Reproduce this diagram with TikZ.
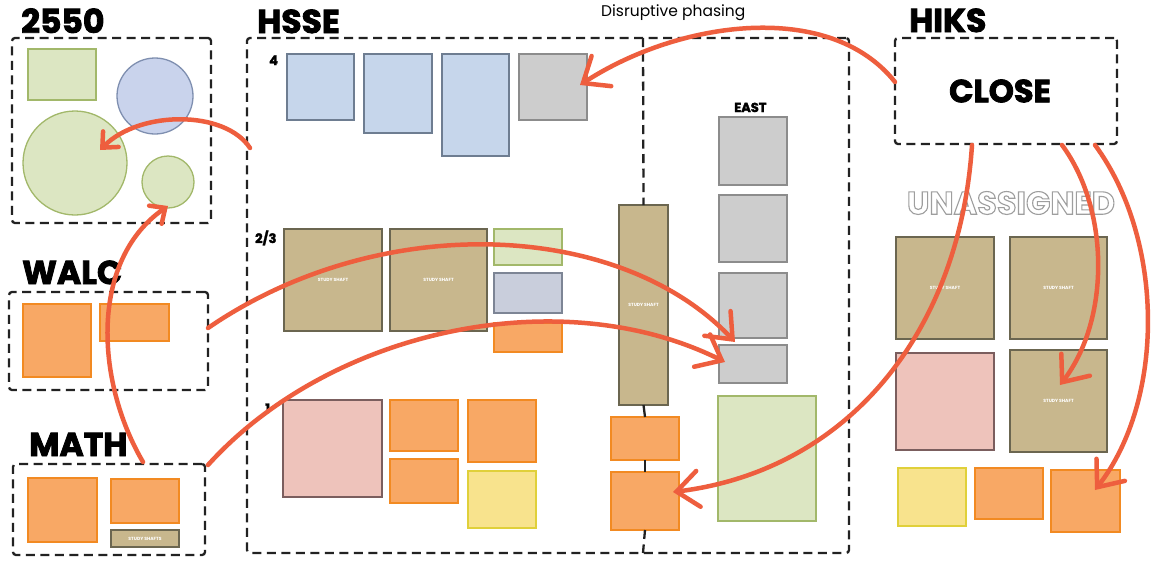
\documentclass[tikz,border=0pt]{standalone}
\usepackage{fontspec}
\setmainfont{Poppins}
\newfontfamily\heavyfont[BoldFeatures={FakeBold=2.5}]{Poppins}
\usetikzlibrary{arrows.meta,calc}
\definecolor{arrowc}{HTML}{EE5E3E}
\definecolor{dashc}{HTML}{222222}
\definecolor{blueF}{HTML}{C6D6EB}\definecolor{blueD}{HTML}{6E7D91}
\definecolor{grayF}{HTML}{CDCDCD}\definecolor{grayD}{HTML}{8C8C8C}
\definecolor{brownF}{HTML}{C8B78D}\definecolor{brownD}{HTML}{6B6650}
\definecolor{greenF}{HTML}{DCE6C2}\definecolor{greenD}{HTML}{A2B86A}
\definecolor{orangeF}{HTML}{F8A865}\definecolor{orangeD}{HTML}{F28A22}
\definecolor{pinkF}{HTML}{EEC3BB}\definecolor{pinkD}{HTML}{7B5E5E}
\definecolor{yellowF}{HTML}{F8E38D}\definecolor{yellowD}{HTML}{E0D03A}
\definecolor{lavF}{HTML}{C9CEDC}\definecolor{lavD}{HTML}{7D8595}
\definecolor{blueC}{HTML}{C9D3EC}\definecolor{blueCD}{HTML}{7F8FB0}
\newcommand{\roomat}[7]{\node[room,#2,minimum width=#5-#3,minimum height=#6-#4] (#1) at ({(#3+#5)/2},{(#4+#6)/2}) {#7};}
\newcommand{\dboxat}[5]{\node[dashbox,minimum width=#4-#2,minimum height=#5-#3] (#1) at ({(#2+#4)/2},{(#3+#5)/2}) {};}
\begin{document}
\begin{tikzpicture}[x=1pt,y=-1pt,
  room/.style={draw, line width=1.3pt, inner sep=1pt, outer sep=0pt, text=white, align=center,
    font=\fontsize{4.5}{5}\selectfont\bfseries},
  blueR/.style={fill=blueF, draw=blueD},
  grayR/.style={fill=grayF, draw=grayD},
  brownR/.style={fill=brownF, draw=brownD},
  greenR/.style={fill=greenF, draw=greenD},
  orangeR/.style={fill=orangeF, draw=orangeD},
  pinkR/.style={fill=pinkF, draw=pinkD},
  yellowR/.style={fill=yellowF, draw=yellowD},
  lavR/.style={fill=lavF, draw=lavD},
  circ/.style={circle, draw, line width=1.3pt, inner sep=0pt, outer sep=0pt},
  dashbox/.style={draw=dashc, line width=2.3pt, dash pattern=on 9pt off 5.5pt, rounded corners=3pt, inner sep=0pt, outer sep=0pt},
  dline/.style={draw=dashc, line width=2.3pt, dash pattern=on 9pt off 5.5pt},
  sline/.style={draw=dashc, line width=2.3pt},
  heading/.style={anchor=base west, inner sep=0pt, font=\fontsize{33}{36}\selectfont\heavyfont\bfseries},
  level/.style={anchor=base west, inner sep=0pt, font=\fontsize{13}{14}\selectfont\heavyfont\bfseries},
  arr/.style={draw=arrowc, line width=4.5pt, line cap=round, -{Straight Barb[length=22pt,width=36pt,line cap=round]}},
  arrs/.style={draw=arrowc, line width=4.5pt, line cap=round, -{Straight Barb[length=12pt,width=22pt,line cap=round]}}
]
\useasboundingbox (0,0) rectangle (1152,560);
\fill[white] (0,0) rectangle (1152,560);

% headings
\node[heading] (t2550) at (21,33) {2550};
\node[heading] (thsse) at (257,33) {HSSE};
\node[heading] (thiks) at (909,32) {HIKS};
\node[heading] (twalc) at (22,284) {WALC};
\node[heading] (tmath) at (29,456) {MATH};
\node[anchor=base west, inner sep=0pt, font=\fontsize{15.5}{17}\selectfont] (tdis) at (601,16) {Disruptive phasing};
\node[level] (teast) at (734,112) {EAST};
\node[level] (l4) at (269,65) {4};
\node[level] (l23) at (255,243) {2/3};
\node[level] (l1) at (265,413) {1};

% dashed groups
\dboxat{d2550}{12}{38}{211}{223}
\dboxat{hsse}{247}{38}{849}{553}
\dboxat{hiks}{895}{38}{1117}{144}
\dboxat{walc}{9}{292}{208}{390}
\dboxat{math}{13}{464}{205}{555}
\node[font=\fontsize{32}{34}\selectfont\heavyfont\bfseries, inner sep=0pt] (close) at (1000,91) {CLOSE};
\node[font=\fontsize{32}{34}\selectfont\bfseries, inner sep=0pt] (unassigned) at (1011,203)
  {\color{white}\special{pdf:literal direct 0.62 G 1.1 w 2 Tr}UNASSIGNED\special{pdf:literal direct 0 Tr}};

% 2550
\roomat{g2550}{greenR}{28}{49}{96}{100}{}
\node[circ, fill=blueC, draw=blueCD, minimum size=76pt] (cblue) at (155,96) {};
\node[circ, greenR, minimum size=104pt] (cbig) at (75,163) {};
\node[circ, greenR, minimum size=52pt] (csmall) at (168,182) {};

% HSSE level 4
\roomat{b1}{blueR}{287}{54}{354}{120}{}
\roomat{b2}{blueR}{364}{54}{432}{133}{}
\roomat{b3}{blueR}{442}{54}{509}{156}{}
\roomat{gr4}{grayR}{519}{54}{587}{120}{}
% level 2/3
\roomat{br1}{brownR}{284}{229}{382}{331}{STUDY SHAFT}
\roomat{br2}{brownR}{390}{229}{487}{331}{STUDY SHAFT}
\roomat{gsm}{greenR}{494}{229}{562}{265}{}
\roomat{lav}{lavR}{494}{273}{562}{313}{}
\roomat{osm}{orangeR}{494}{323}{562}{352}{}
\roomat{tall}{brownR}{619}{205}{668}{405}{STUDY SHAFT}
% level 1
\roomat{pink1}{pinkR}{283}{400}{382}{497}{}
\roomat{o1}{orangeR}{390}{400}{458}{451}{}
\roomat{o2}{orangeR}{390}{459}{458}{503}{}
\roomat{o3}{orangeR}{468}{400}{536}{462}{}
\roomat{y1}{yellowR}{468}{471}{536}{528}{}
\roomat{oA}{orangeR}{611}{417}{679}{460}{}
\roomat{oB}{orangeR}{611}{472}{679}{530}{}
% east
\roomat{e1}{grayR}{719}{117}{787}{185}{}
\roomat{e2}{grayR}{719}{195}{787}{262}{}
\roomat{e3}{grayR}{719}{273}{787}{338}{}
\roomat{e4}{grayR}{719}{345}{787}{383}{}
\roomat{egreen}{greenR}{718}{396}{816}{521}{}
% divider of HSSE
\coordinate (divtop) at (643,38);
\coordinate (divbot) at (643,553);
\draw[dline] (divtop) -- (tall.north);
\draw[sline] (tall.south) -- (oA.north);
\draw[sline] (oA.south) -- (oB.north);
\draw[dline] (oB.south) -- (divbot);

% HIKS unassigned
\roomat{ub1}{brownR}{896}{237}{994}{339}{STUDY SHAFT}
\roomat{ub2}{brownR}{1010}{237}{1107}{339}{STUDY SHAFT}
\roomat{upink}{pinkR}{896}{353}{994}{450}{}
\roomat{ub3}{brownR}{1010}{350}{1107}{452}{STUDY SHAFT}
\roomat{uy}{yellowR}{898}{468}{966}{526}{}
\roomat{uo1}{orangeR}{975}{468}{1043}{519}{}
\roomat{uo2}{orangeR}{1051}{470}{1120}{532}{}

% WALC
\roomat{wo1}{orangeR}{23}{304}{91}{377}{}
\roomat{wo2}{orangeR}{100}{304}{169}{341}{}
% MATH
\roomat{mo1}{orangeR}{28}{478}{97}{542}{}
\roomat{mo2}{orangeR}{111}{479}{179}{523}{}
\roomat{mbr}{brownR}{111}{530}{179}{547}{STUDY SHAFTS}

% arrow end points
\coordinate (a1s) at (895,82);   \coordinate (a1e) at (580,85);
\coordinate (a2s) at (250,148);  \coordinate (a2e) at (100,150);
\coordinate (a3s) at (143,462);  \coordinate (a3e) at (168,206);
\coordinate (a4s) at (208,328);  \coordinate (a4e) at (735,342);
\coordinate (a5s) at (208,465);  \coordinate (a5e) at (725,362);
\coordinate (a6s) at (972,145);  \coordinate (a6e) at (673,492);
\coordinate (a7s) at (1062,145); \coordinate (a7e) at (1060,385);
\coordinate (a8s) at (1095,145); \coordinate (a8e) at (1095,490);

\draw[arr] (a1s) .. controls (830,0) and (680,20) .. (a1e);
\draw[arrs] (a2s) .. controls (225,110) and (140,110) .. (a2e);
\draw[arrs] (a3s) .. controls (95,380) and (90,260) .. (a3e);
\draw[arr] (a4s) .. controls (380,210) and (620,220) .. (a4e);
\draw[arr] (a5s) .. controls (330,330) and (560,280) .. (a5e);
\draw[arr] (a6s) .. controls (960,330) and (850,470) .. (a6e);
\draw[arr] (a7s) .. controls (1110,210) and (1110,320) .. (a7e);
\draw[arr] (a8s) .. controls (1165,240) and (1165,400) .. (a8e);
\end{tikzpicture}
\end{document}
